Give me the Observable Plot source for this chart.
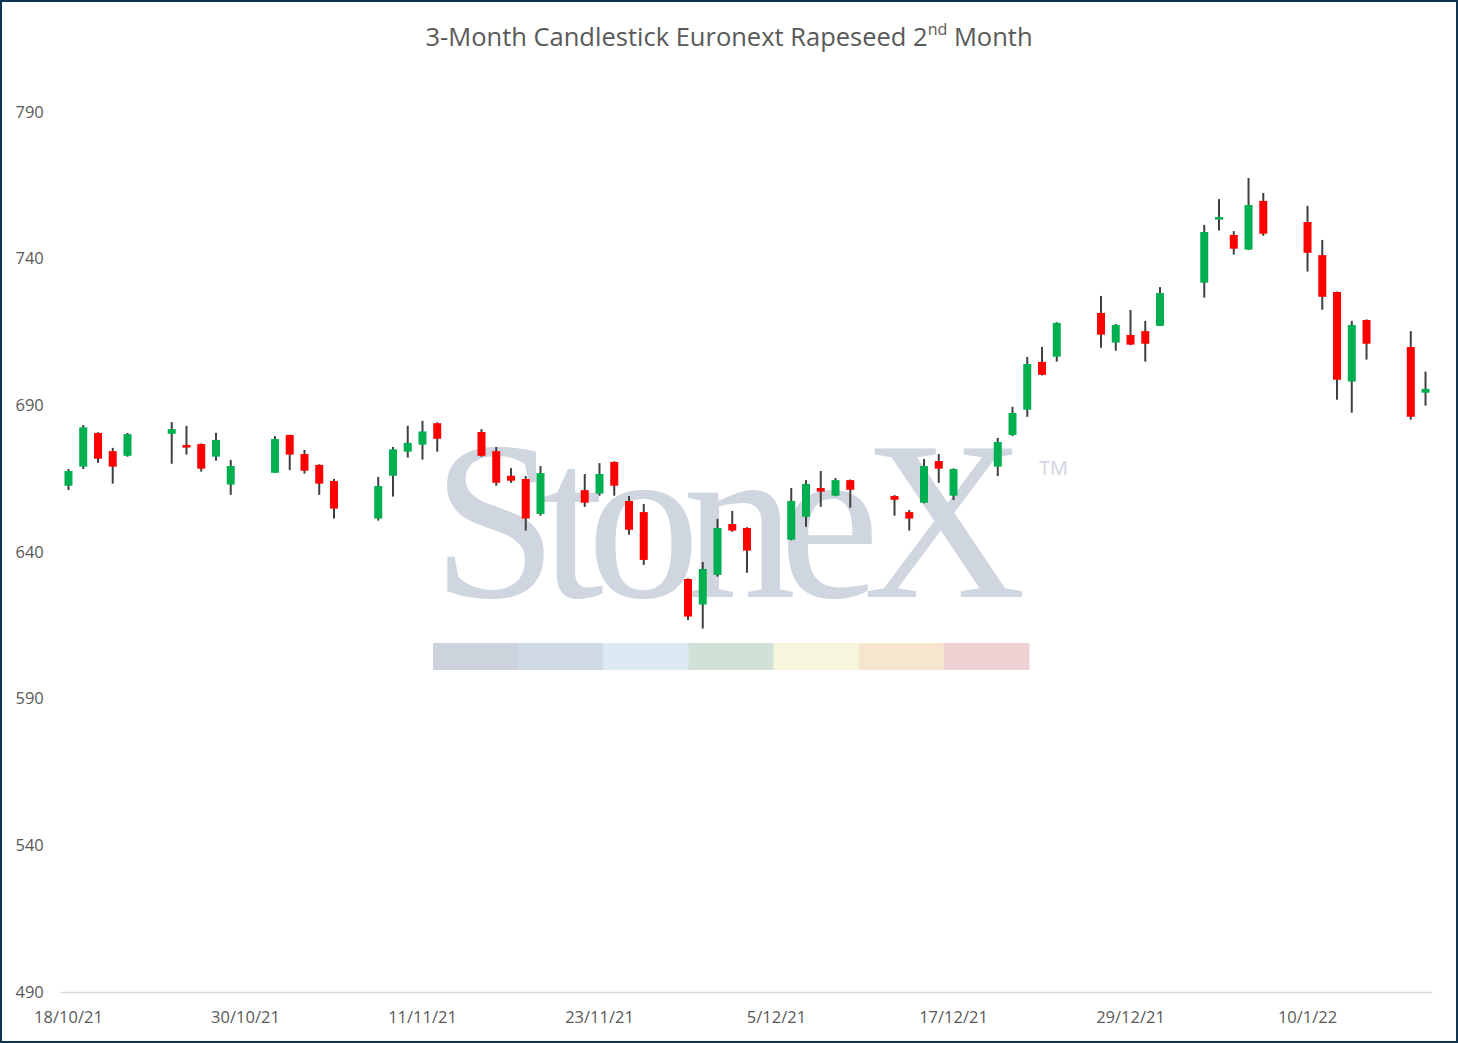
<!DOCTYPE html>
<html>
<head>
<meta charset="utf-8">
<script src="https://cdn.jsdelivr.net/npm/d3@7"></script>
<script src="https://cdn.jsdelivr.net/npm/@observablehq/plot@0.6"></script>
<style>
  html, body { margin: 0; padding: 0; background: #fff; }
  #wrap { position: relative; width: 1458px; height: 1043px; overflow: hidden; background: #fff; }
  #title { position: absolute; left: 0; top: 0; width: 1458px; height: 60px; text-align: center;
           font-family: "Open Sans", "Noto Sans", sans-serif; font-size: 25.5px; color: #595959;
           line-height: 72px; }
  #title sup { font-size: 16px; line-height: 0; position: relative; top: -2px; }
  #chart { position: absolute; left: 0; top: 60px; }
  #border { position: absolute; inset: 0; border: 2px solid #0e3452; box-sizing: border-box; pointer-events: none; }
</style>
</head>
<body>
<div id="wrap">
  <div id="title">3-Month Candlestick Euronext Rapeseed 2<sup>nd</sup> Month</div>
  <div id="chart"></div>
  <div id="border"></div>
</div>
<script>
// ---- data ----
const dates = [
  "2021-10-18","2021-10-19","2021-10-20","2021-10-21","2021-10-22",
  "2021-10-25","2021-10-26","2021-10-27","2021-10-28","2021-10-29",
  "2021-11-01","2021-11-02","2021-11-03","2021-11-04","2021-11-05",
  "2021-11-08","2021-11-09","2021-11-10","2021-11-11","2021-11-12",
  "2021-11-15","2021-11-16","2021-11-17","2021-11-18","2021-11-19",
  "2021-11-22","2021-11-23","2021-11-24","2021-11-25","2021-11-26",
  "2021-11-29","2021-11-30","2021-12-01","2021-12-02","2021-12-03",
  "2021-12-06","2021-12-07","2021-12-08","2021-12-09","2021-12-10",
  "2021-12-13","2021-12-14","2021-12-15","2021-12-16","2021-12-17",
  "2021-12-20","2021-12-21","2021-12-22","2021-12-23","2021-12-24",
  "2021-12-27","2021-12-28","2021-12-29","2021-12-30","2021-12-31",
  "2022-01-03","2022-01-04","2022-01-05","2022-01-06","2022-01-07",
  "2022-01-10","2022-01-11","2022-01-12","2022-01-13","2022-01-14",
  "2022-01-17","2022-01-18"
];
const open = [
  662.6,669.1,680.6,674.4,672.8,
  680.3,676.5,676.8,672.5,663.0,
  667.0,679.9,673.4,669.7,664.2,
  651.4,666.0,674.2,676.6,683.9,
  680.9,674.4,666.0,664.9,653.0,
  661.1,659.9,670.7,657.4,653.6,
  630.8,622.1,632.2,649.5,648.2,
  644.2,652.0,661.8,659.2,664.5,
  659.1,653.6,656.8,671.0,659.2,
  669.1,679.9,688.5,704.8,706.6,
  721.5,711.4,714.0,715.3,717.1,
  731.8,753.3,748.1,743.1,759.7,
  752.5,741.2,728.6,698.1,719.1,
  709.9,694.3
];
const high = [
  668.3,683.3,680.8,675.5,680.6,
  684.3,683.0,677.0,680.6,671.4,
  679.5,680.0,674.8,669.9,664.9,
  665.6,675.8,683.0,684.7,684.2,
  681.9,675.8,668.6,665.9,669.3,
  666.6,670.3,670.9,659.1,656.4,
  631.0,636.6,651.3,654.0,648.4,
  661.8,664.5,667.6,665.2,664.7,
  659.4,654.3,671.7,673.4,668.5,
  678.9,689.5,706.5,709.9,718.3,
  727.3,717.7,722.5,718.8,730.3,
  751.5,760.3,749.4,767.5,762.4,
  758.0,746.4,728.8,718.8,719.3,
  715.3,701.5
];
const low = [
  661.1,668.3,670.4,663.3,672.5,
  670.1,673.2,667.4,671.1,659.5,
  667.0,667.9,666.7,659.5,651.4,
  650.7,658.9,672.2,671.5,674.2,
  672.5,662.6,663.6,647.3,652.4,
  655.4,659.2,659.2,645.9,635.6,
  616.8,613.9,631.6,646.9,632.9,
  644.0,648.6,655.4,659.0,655.1,
  652.4,647.3,656.6,663.6,657.7,
  665.9,679.5,686.1,700.2,704.9,
  709.6,708.6,710.5,704.9,717.0,
  726.7,749.6,741.4,743.0,747.8,
  735.6,722.6,691.9,687.5,705.6,
  685.1,689.9
];
const close = [
  667.6,682.5,671.8,669.1,680.2,
  681.9,675.6,668.4,678.2,669.3,
  678.5,673.2,667.7,663.3,654.8,
  662.5,675.0,677.2,681.1,678.6,
  672.8,663.6,664.3,651.4,666.9,
  656.8,666.6,662.6,647.6,637.3,
  618.0,634.2,648.2,647.3,640.5,
  657.4,663.2,660.6,664.5,661.2,
  657.8,651.4,669.3,668.4,668.3,
  677.5,687.4,704.1,700.4,718.1,
  714.1,717.4,710.7,711.0,728.3,
  749.1,754.2,743.4,758.3,748.5,
  742.0,727.0,698.7,717.4,711.0,
  686.1,695.6
];
const xTickLabels = ["18/10/21","30/10/21","11/11/21","23/11/21","5/12/21","17/12/21","29/12/21","10/1/22"];
const yTicks = [490, 540, 590, 640, 690, 740, 790];
const stripColors = ["#ccd3dc","#d0dae5","#dceaf3","#d2e1d7","#f7f5dc","#f8e5cf","#efd2d4"];

// ---- build table ----
const parseDMY = s => { const [d, m, y] = s.split("/").map(Number); return new Date(2000 + y, m - 1, d); };
const parseISO = s => { const [y, m, d] = s.split("-").map(Number); return new Date(y, m - 1, d); };
const rows = dates.map((d, i) => ({
  date: parseISO(d), open: open[i], high: high[i], low: low[i], close: close[i],
  up: close[i] >= open[i]
}));
const xTicks = xTickLabels.map(parseDMY);
const fmt = d => `${d.getDate()}/${d.getMonth() + 1}/${String(d.getFullYear()).slice(2)}`;

const x0 = new Date(2021, 9, 17, 12);
const x1 = new Date(2022, 0, 18, 12);

const wmLeft = 432, wmRight = 1026;

// watermark drawn behind the candles
function watermark(index, scales, values, dim) {
  const g = d3.create("svg:g").attr("text-anchor", "start");
  g.append("text")
    .attr("class", "wm-logo")
    .attr("x", wmLeft).attr("y", 537)
    .attr("text-anchor", "start")
    .attr("font-family", "'Liberation Serif', 'DejaVu Serif', serif")
    .attr("font-size", 226).attr("fill", "#cfd6df").text("StoneX");
  g.append("text")
    .attr("x", 1039).attr("y", 415)
    .attr("text-anchor", "start")
    .attr("font-family", "'Open Sans', sans-serif")
    .attr("font-size", 20).attr("fill", "#cfd6df").text("TM");
  const sx0 = 433, sx1 = 1029, sw = (sx1 - sx0) / stripColors.length;
  stripColors.forEach((c, i) => {
    g.append("rect").attr("x", sx0 + i * sw).attr("y", 583).attr("width", sw + 0.5).attr("height", 27).attr("fill", c);
  });
  return g.node();
}

const chart = Plot.plot({
  width: 1458,
  height: 983,
  marginTop: 52,
  marginBottom: 51,
  marginLeft: 60.6,
  marginRight: 25.6,
  style: { background: "transparent", fontFamily: "'Open Sans', 'Noto Sans', sans-serif", fontSize: "16.5px", color: "#595959" },
  x: { type: "time", domain: [x0, x1] },
  y: { domain: [490, 790] },
  marks: [
    watermark,
    Plot.ruleY([490], { stroke: "#d9d9d9", strokeWidth: 1.5 }),
    Plot.axisY(yTicks, { tickSize: 0, tickPadding: 0, textAnchor: "start", dx: -45.6, fill: "#595959", fontSize: 16.5 }),
    Plot.axisX(xTicks, { tickSize: 0, tickPadding: 19, tickFormat: fmt, fill: "#595959", fontSize: 16.5, label: null }),
    Plot.ruleX(rows, { x: "date", y1: "low", y2: "high", stroke: "#404040", strokeWidth: 2 }),
    Plot.ruleX(rows, { x: "date", y1: "open", y2: "close", stroke: d => d.up ? "#00b050" : "#ff0000", strokeWidth: 8 })
  ]
});
document.getElementById("chart").appendChild(chart);

// tighten the watermark letters so the logo spans its width (natural glyph shapes)
const logo = chart.querySelector(".wm-logo");
if (logo) {
  const w = logo.getComputedTextLength();
  const ls = (wmRight - wmLeft - w) / 5;
  logo.setAttribute("letter-spacing", ls.toFixed(2));
}
</script>
</body>
</html>
